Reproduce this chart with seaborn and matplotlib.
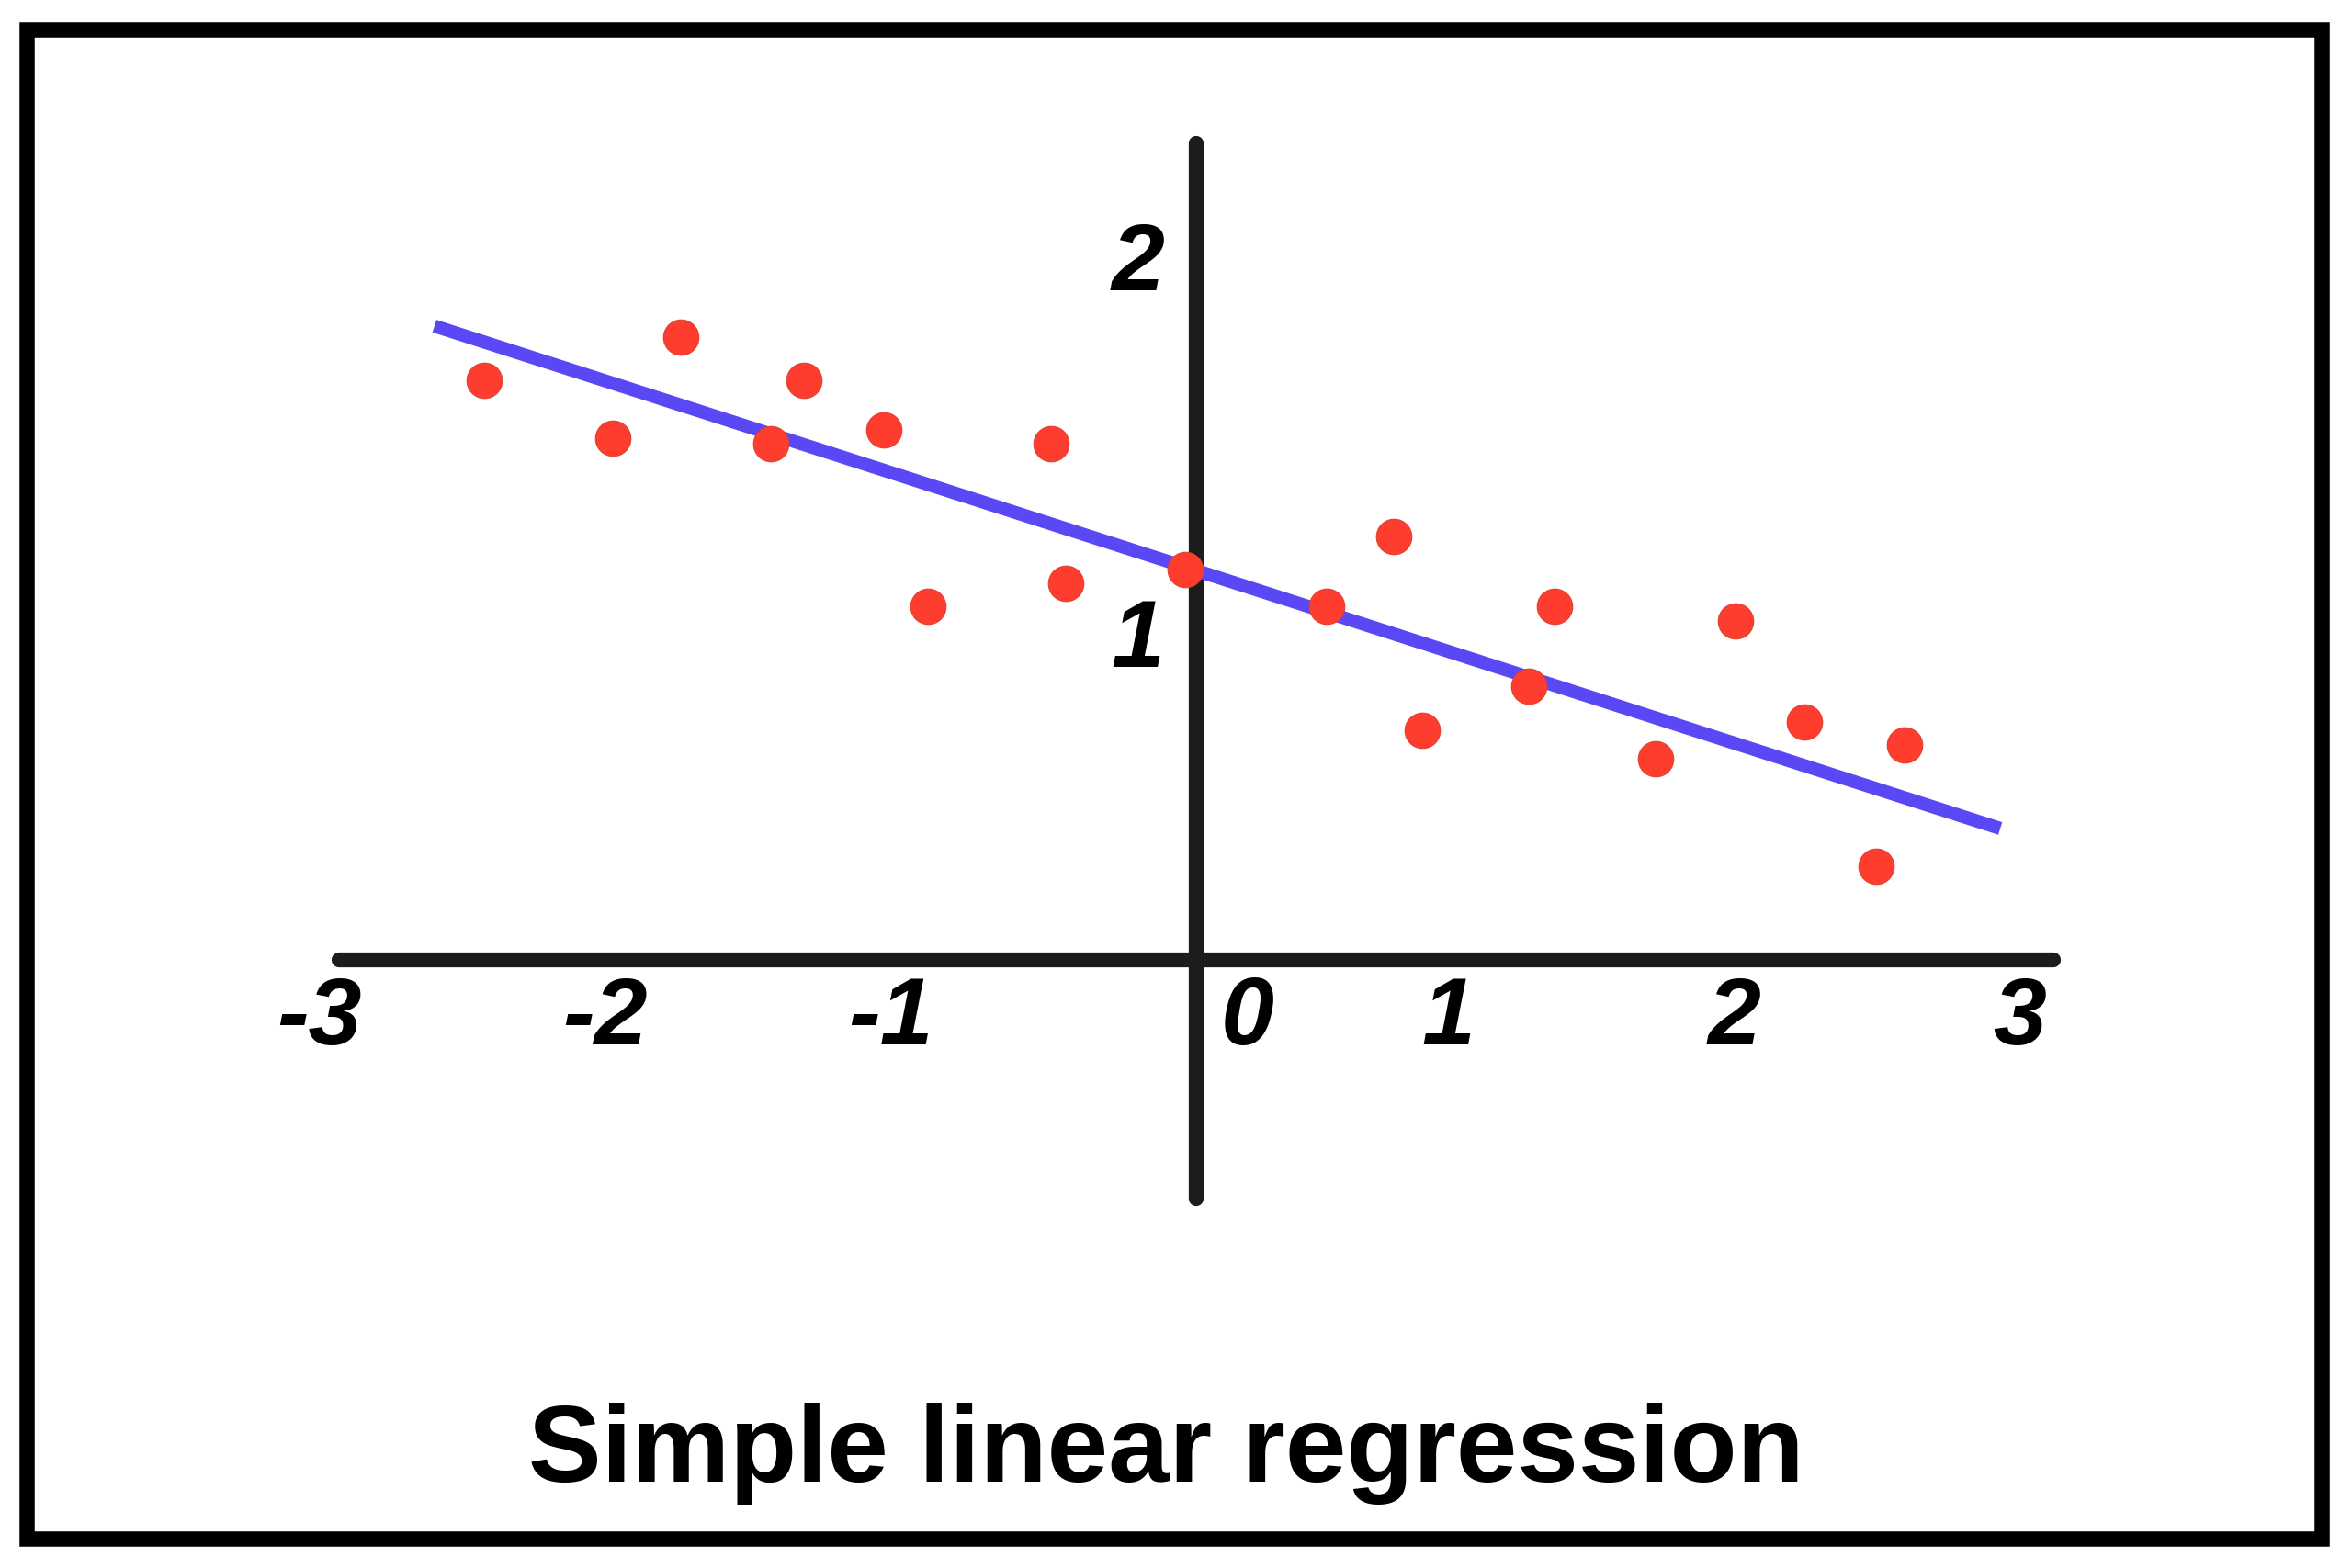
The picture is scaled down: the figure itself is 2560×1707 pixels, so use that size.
import numpy as np
import pandas as pd
import seaborn as sns
import matplotlib.pyplot as plt
from matplotlib.patches import Rectangle

# points
pts_x = [-2.493, -2.041, -1.805, -1.490, -1.372, -1.092, -0.939, -0.507, -0.457, -0.039,
         0.458, 0.690, 0.790, 1.165, 1.253, 1.608, 1.886, 2.129, 2.378, 2.478]
pts_y = [1.538, 1.386, 1.653, 1.370, 1.538, 1.407, 0.939, 1.370, 1.000, 1.037,
         0.939, 1.124, 0.610, 0.728, 0.939, 0.533, 0.901, 0.632, 0.250, 0.571]

# fitted line end points
line_x = [-2.666, 2.814]
line_y = [1.683, 0.349]

x_ticks = [-3, -2, -1, 0, 1, 2, 3]
y_ticks = [1, 2]
title = "Simple linear regression"

sns.set_theme(style="white")
plt.rcParams['font.family'] = ['Liberation Sans', 'DejaVu Sans']

fig = plt.figure(figsize=(25.6, 17.07), dpi=100)
ax = fig.add_axes([0, 0, 1, 1])
ax.set_xlim(-1302 / 311, (2560 - 1302) / 311)
ax.set_ylim((1045 - 1707) / 410, 1045 / 410)
ax.axis('off')

axis_col = '#1c1c1c'
ax.plot([-3, 3], [0, 0], color=axis_col, lw=11.7, solid_capstyle='round', zorder=1)
ax.plot([0, 0], [-0.634, 2.168], color=axis_col, lw=11.7, solid_capstyle='round', zorder=1)

df_line = pd.DataFrame({'x': line_x, 'y': line_y})
sns.lineplot(data=df_line, x='x', y='y', ax=ax, color='#5b48f5', lw=10.3,
             solid_capstyle='butt', zorder=2)

df_pts = pd.DataFrame({'x': pts_x, 'y': pts_y})
sns.scatterplot(data=df_pts, x='x', y='y', ax=ax, s=770, color='#ff3d2e',
                edgecolor='#e0402f', linewidth=0.8, zorder=4)

# tick labels, italic digits sit a bit below/left of their tick
lab_kw = dict(fontsize=75, fontweight='bold', fontstyle='italic', color='black',
              ha='center', va='baseline')
for t in x_ticks:
    if t == 0:
        dx = 0.18
    elif t < 0:
        dx = -0.068
    else:
        dx = -0.118
    ax.text(t + dx, -0.224, str(t), **lab_kw)
for t in y_ticks:
    ax.text(-0.205, t - 0.223, str(t), **lab_kw)

fig.text(1269 / 2560, (1707 - 1613) / 1707, title, fontsize=86, fontweight='bold',
         color='black', ha='center', va='baseline')

fig.patches.append(Rectangle((29 / 2560, 32 / 1707), (2527 - 29) / 2560, (1675 - 32) / 1707,
                             transform=fig.transFigure, fill=False, edgecolor='black',
                             lw=11.9, joinstyle='miter'))

fig.savefig('out.png', dpi=100, facecolor='white')
